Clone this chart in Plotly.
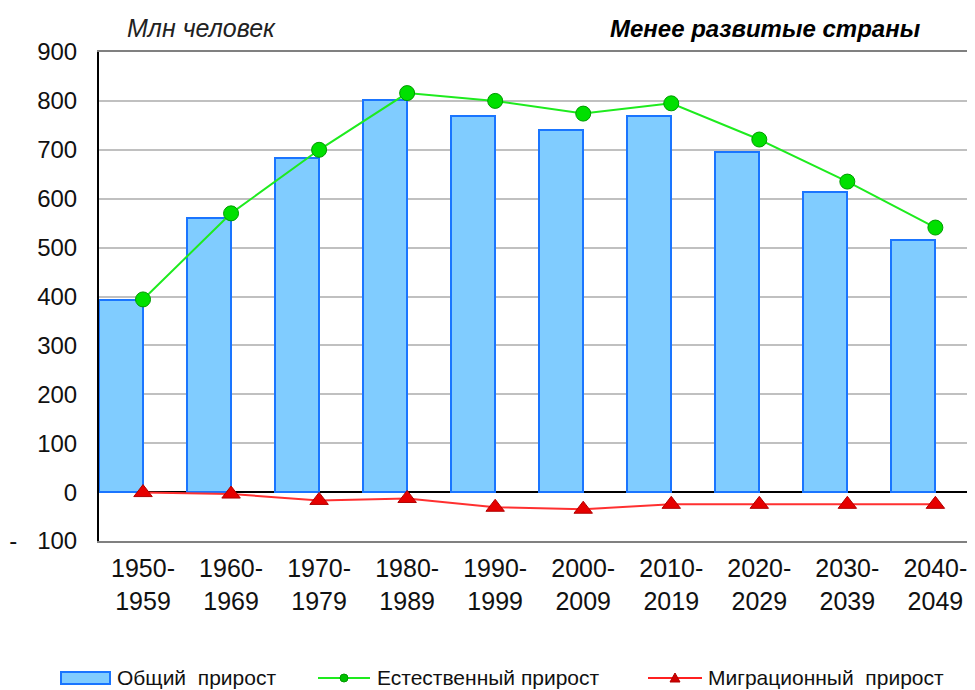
import plotly.graph_objects as go

categories = ["1950-<br>1959", "1960-<br>1969", "1970-<br>1979", "1980-<br>1989", "1990-<br>1999",
              "2000-<br>2009", "2010-<br>2019", "2020-<br>2029", "2030-<br>2039", "2040-<br>2049"]
total_growth = [393, 560, 683, 801, 769, 740, 769, 695, 613, 515]
natural_growth = [394, 570, 700, 816, 800, 774, 795, 721, 635, 541]
migration_growth = [-1, -4, -17, -13, -31, -35, -25, -25, -25, -25]
y_tickvals = [-100, 0, 100, 200, 300, 400, 500, 600, 700, 800, 900]
y_ticktext = ["-\u00a0\u00a0\u00a0100", "0", "100", "200", "300", "400", "500", "600", "700", "800", "900"]
legend_labels = ["Общий\u00a0\u00a0прирост", "Естественный прирост", "Миграционный\u00a0\u00a0прирост"]

# page body has an 8px margin: figure is drawn from (8, 8) in the window
OFF = 8
W, H = 975 - OFF, 690 - OFF
L, R, T = 99 - OFF, 0, 52 - OFF
B = H - (541 - OFF)
PW, PH = W - L - R, H - T - B


def px(x):
    return (x - OFF - L) / PW


def py(y):
    return (H - B - (y - OFF)) / PH


FONT = "Liberation Sans, Arial, sans-serif"
xs = list(range(len(categories)))

fig = go.Figure()
fig.add_trace(go.Bar(
    x=xs, y=total_growth, width=0.5, offset=-0.5,
    marker=dict(color="#80CCFF", line=dict(color="#1A75FF", width=2)),
    name=legend_labels[0], showlegend=False,
))
fig.add_trace(go.Scatter(
    x=xs, y=natural_growth, mode="lines+markers",
    line=dict(color="#1EEB1E", width=2),
    marker=dict(symbol="circle", size=15, color="#00E000", line=dict(color="#009A00", width=1)),
    name=legend_labels[1], showlegend=False,
))
fig.add_trace(go.Scatter(
    x=xs, y=migration_growth, mode="lines+markers",
    line=dict(color="#FF3030", width=2),
    marker=dict(symbol="triangle-up", size=16, color="#E60000", line=dict(color="#B00000", width=1)),
    name=legend_labels[2], showlegend=False,
))

shapes = []
annotations = []
ly = 678
LFS = 21
shapes.append(dict(type="rect", xref="paper", yref="paper",
                   x0=px(61), x1=px(110), y0=py(ly + 6), y1=py(ly - 6),
                   fillcolor="#80CCFF", line=dict(color="#1A75FF", width=2)))
annotations.append(dict(xref="paper", yref="paper", x=px(115), y=py(ly), xanchor="left", yanchor="middle",
                        text=legend_labels[0], showarrow=False, font=dict(family=FONT, size=LFS, color="#111111")))
shapes.append(dict(type="line", xref="paper", yref="paper", x0=px(318), x1=px(370), y0=py(ly), y1=py(ly),
                   line=dict(color="#1EEB1E", width=2)))
shapes.append(dict(type="circle", xref="paper", yref="paper", x0=px(340), x1=px(348), y0=py(ly + 4), y1=py(ly - 4),
                   fillcolor="#00C000", line=dict(color="#009A00", width=1)))
annotations.append(dict(xref="paper", yref="paper", x=px(375), y=py(ly), xanchor="left", yanchor="middle",
                        text=legend_labels[1], showarrow=False, font=dict(family=FONT, size=LFS, color="#111111")))
shapes.append(dict(type="line", xref="paper", yref="paper", x0=px(648), x1=px(702), y0=py(ly), y1=py(ly),
                   line=dict(color="#FF2020", width=2)))
shapes.append(dict(type="path", xref="paper", yref="paper",
                   path=f"M {px(670)} {py(ly + 4)} L {px(680)} {py(ly + 4)} L {px(675)} {py(ly - 5)} Z",
                   fillcolor="#D00000", line=dict(color="#B00000", width=1)))
annotations.append(dict(xref="paper", yref="paper", x=px(706), y=py(ly), xanchor="left", yanchor="middle",
                        text=legend_labels[2], showarrow=False, font=dict(family=FONT, size=LFS, color="#111111")))

annotations.append(dict(xref="paper", yref="paper", x=px(201), y=py(28), xanchor="center", yanchor="middle",
                        text="<i>Млн человек</i>", showarrow=False,
                        font=dict(family=FONT, size=25, color="#222222")))
annotations.append(dict(xref="paper", yref="paper", x=px(765), y=py(28), xanchor="center", yanchor="middle",
                        text="<b><i>Менее развитые страны</i></b>", showarrow=False,
                        font=dict(family=FONT, size=24, color="#000000")))

fig.update_layout(
    width=W, height=H,
    margin=dict(l=L, r=R, t=T, b=B, pad=0, autoexpand=False),
    paper_bgcolor="white", plot_bgcolor="white",
    showlegend=False,
    bargap=0,
    shapes=shapes,
    annotations=annotations,
    font=dict(family=FONT, size=24, color="#111111"),
    xaxis=dict(
        range=[-0.5, 9.45], tickvals=xs, ticktext=categories,
        showgrid=False, zeroline=False,
        showline=True, linecolor="#808080", linewidth=2, mirror=True,
        ticks="", ticklabelstandoff=4, automargin=False,
        tickfont=dict(family=FONT, size=25, color="#111111"),
        fixedrange=True,
    ),
    yaxis=dict(
        range=[-100, 900], tickvals=y_tickvals, ticktext=y_ticktext,
        showgrid=True, gridcolor="#C0C0C0", gridwidth=2,
        zeroline=True, zerolinecolor="#000000", zerolinewidth=2,
        showline=True, linecolor="#000000", linewidth=2,
        ticks="", ticklabelstandoff=15, automargin=False,
        tickfont=dict(family=FONT, size=24, color="#111111"),
        fixedrange=True,
    ),
)

fig.write_html("out.html")
